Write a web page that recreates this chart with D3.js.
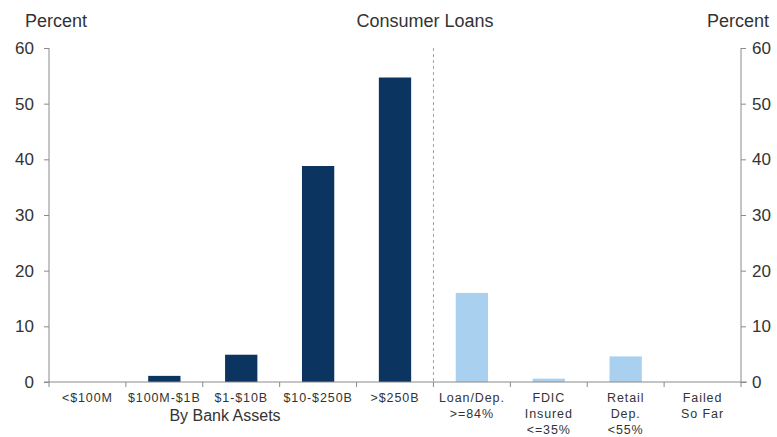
<!DOCTYPE html>
<html><head><meta charset="utf-8">
<script src="https://cdn.jsdelivr.net/npm/d3@7"></script>
<style>body{margin:0;background:#fff}svg{display:block;font-family:Arial,"Liberation Sans",sans-serif}</style>
</head><body><svg id="c" width="777" height="437"></svg>
<script>
const categories = ["<$100M","$100M-$1B","$1-$10B","$10-$250B",">$250B","Loan/Dep.\n>=84%","FDIC\nInsured\n<=35%","Retail\nDep.\n<55%","Failed\nSo Far"];
const values = [0, 1.1, 4.9, 38.8, 54.7, 16.0, 0.6, 4.6, 0];
const groups = ["size","size","size","size","size","other","other","other","other"];
const yTicks = [0,10,20,30,40,50,60];
const title = "Consumer Loans";
const yLabel = "Percent";
const groupLabel = "By Bank Assets";

const svg = d3.select("#c");
const L = 49, R = 741, T = 48, B = 382;
const xb = d3.scaleBand().domain(categories).range([L, R]);
const y = d3.scaleLinear().domain([0, 60]).range([B, T]);
const color = {size:"#0b3560", other:"#a9d0ef"};
const axisColor = "#8a8a8a", textColor = "#333";
const barW = xb.bandwidth() * 0.42;

// dashed divider
const divX = xb(categories[5]);
svg.append("line").attr("x1", divX).attr("x2", divX).attr("y1", T).attr("y2", B)
  .attr("stroke", "#a0a0a0").attr("stroke-dasharray", "3,3").attr("stroke-width", 1);

// bars
svg.selectAll("rect.bar").data(categories).join("rect").attr("class","bar")
  .attr("x", d => xb(d) + (xb.bandwidth() - barW) / 2)
  .attr("width", barW)
  .attr("y", (d,i) => y(values[i]))
  .attr("height", (d,i) => B - y(values[i]))
  .attr("fill", (d,i) => color[groups[i]]);

// y axes
const la = svg.append("g").attr("transform", `translate(${L},0)`)
  .call(d3.axisLeft(y).tickValues(yTicks).tickSize(5).tickPadding(10).tickFormat(d3.format("d")));
const ra = svg.append("g").attr("transform", `translate(${R},0)`)
  .call(d3.axisRight(y).tickValues(yTicks).tickSize(5).tickPadding(6).tickFormat(d3.format("d")));
[la, ra].forEach(g => {
  g.select(".domain").attr("stroke", axisColor).attr("d", `M0,${T}V${B}`);
  g.selectAll(".tick line").attr("stroke", axisColor);
  g.selectAll(".tick text").attr("fill", textColor).attr("font-size", 17);
});
la.selectAll(".tick text").attr("x", -15);
ra.selectAll(".tick text").attr("x", 11);

// x axis
const xa = svg.append("g").attr("transform", `translate(0,${B})`);
xa.append("line").attr("x1", L - 5).attr("x2", R + 6).attr("stroke", axisColor);
const bounds = categories.map(d => xb(d)).concat([R]);
xa.selectAll("line.t").data(bounds).join("line").attr("class","t")
  .attr("x1", d => d).attr("x2", d => d).attr("y1", 0).attr("y2", 5).attr("stroke", axisColor);
categories.forEach((c, i) => {
  const lines = c.split("\n");
  const cx = xb(c) + xb.bandwidth()/2;
  const t = xa.append("text").attr("text-anchor","middle").attr("fill", textColor)
    .attr("font-size", 12.5).attr("letter-spacing", 0.9).attr("x", cx).attr("y", 20);
  lines.forEach((ln, j) => t.append("tspan").attr("x", cx).attr("dy", j ? 16 : 0).text(ln));
});

// group label
svg.append("text").attr("x", 225).attr("y", 421)
  .attr("text-anchor","middle").attr("font-size", 16).attr("fill", textColor).text(groupLabel);

// titles
svg.append("text").attr("x", 25).attr("y", 27).attr("font-size", 18).attr("fill", textColor).text(yLabel);
svg.append("text").attr("x", 769).attr("y", 27).attr("text-anchor","end").attr("font-size", 18).attr("fill", textColor).text(yLabel);
svg.append("text").attr("x", 425).attr("y", 27).attr("text-anchor","middle").attr("font-size", 18).attr("fill", textColor).text(title);
</script></body></html>
